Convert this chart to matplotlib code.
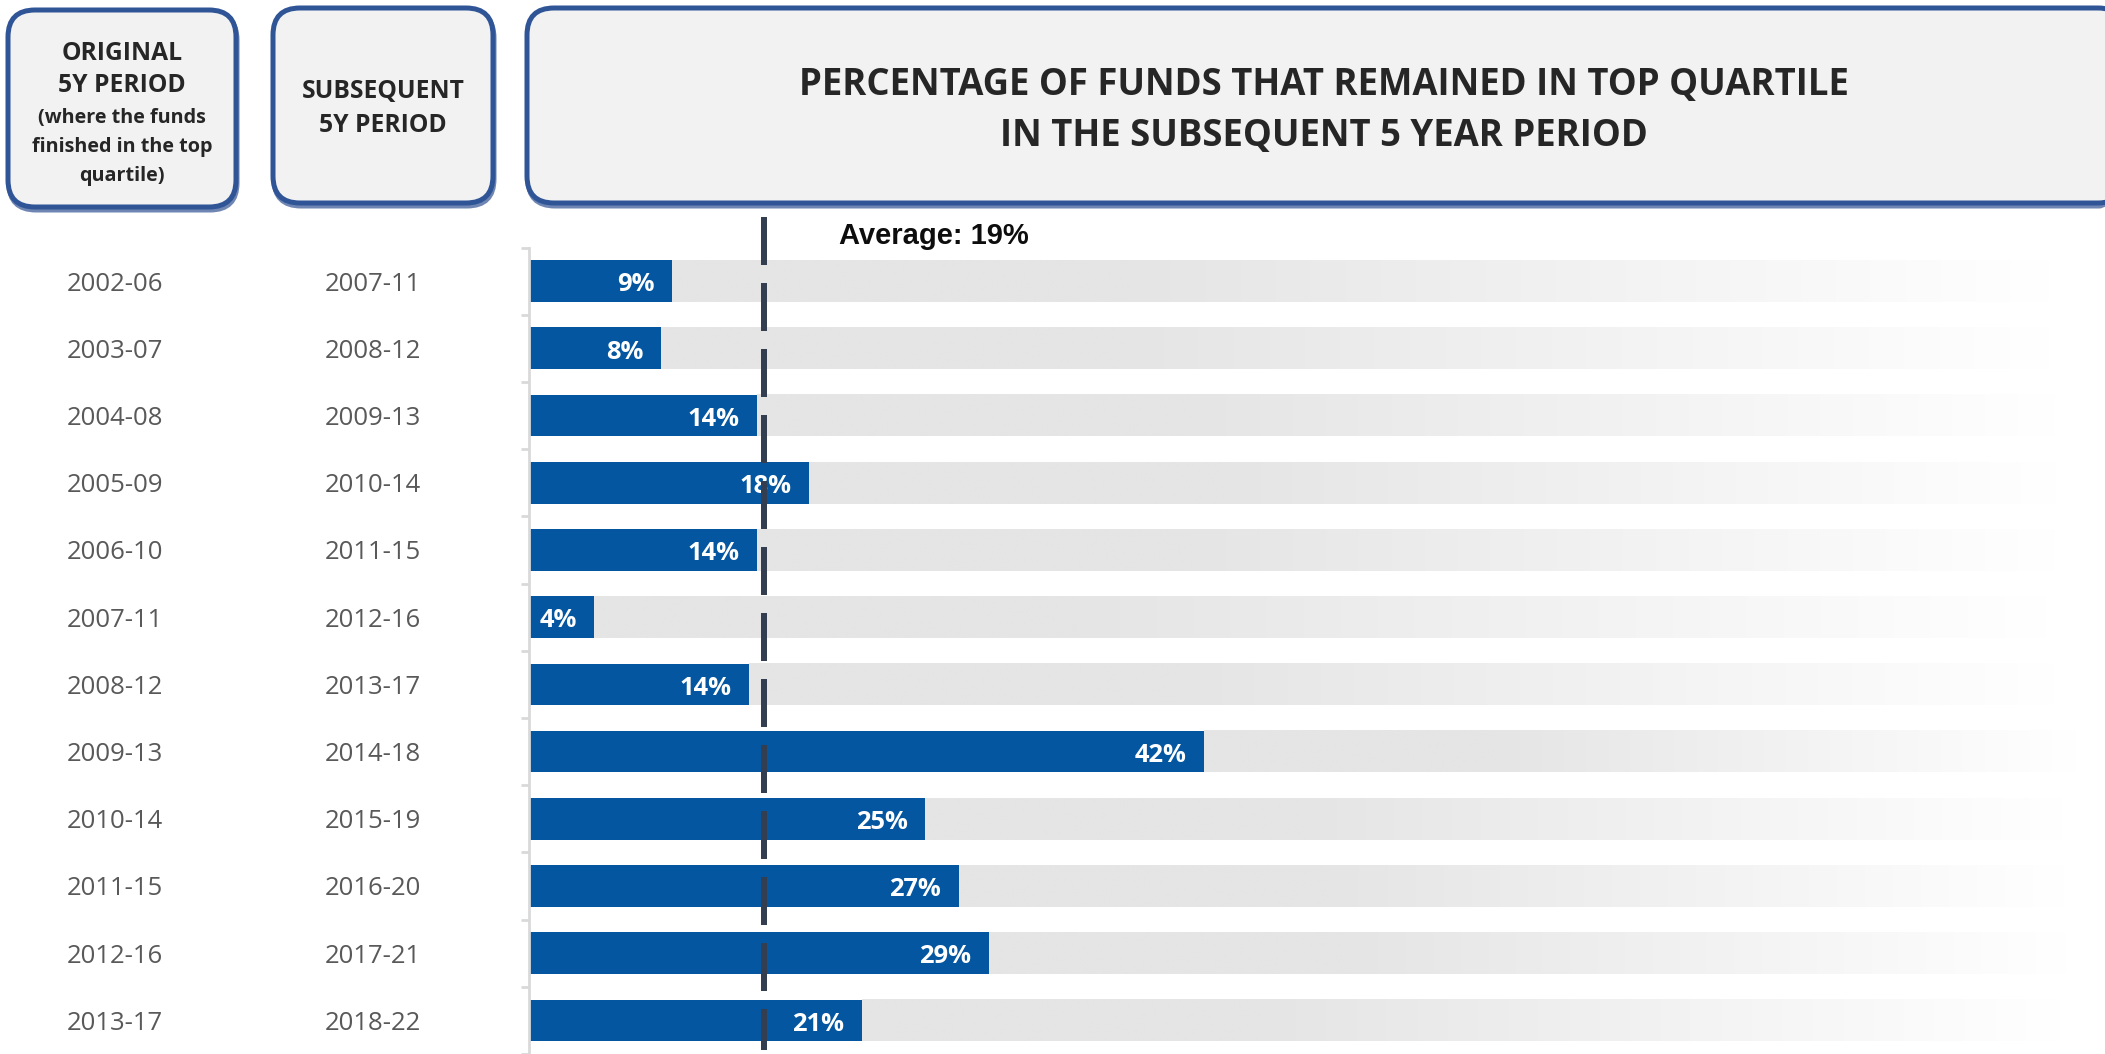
import numpy as np
import matplotlib
matplotlib.use("Agg")
import matplotlib.pyplot as plt
from matplotlib.patches import FancyBboxPatch
from matplotlib import transforms

plt.rcParams['lines.scale_dashes'] = False

# ---------------- data ----------------
original_periods = ['2002-06', '2003-07', '2004-08', '2005-09', '2006-10', '2007-11',
                    '2008-12', '2009-13', '2010-14', '2011-15', '2012-16', '2013-17']
subsequent_periods = ['2007-11', '2008-12', '2009-13', '2010-14', '2011-15', '2012-16',
                      '2013-17', '2014-18', '2015-19', '2016-20', '2017-21', '2018-22']
pct_remained = [9.0, 8.3, 14.3, 17.6, 14.3, 4.1, 13.8, 42.4, 24.9, 27.0, 28.9, 20.9]
average_label_value = 19
average_marker_x = 14.8   # where the dashed average marker sits on the chart's scale
scale_max = 100

header_original = ['ORIGINAL', '5Y PERIOD']
header_original_sub = ['(where the funds', 'finished in the top', 'quartile)']
header_subsequent = ['SUBSEQUENT', '5Y PERIOD']
title_lines = ['PERCENTAGE OF FUNDS THAT REMAINED IN TOP QUARTILE',
               'IN THE SUBSEQUENT 5 YEAR PERIOD']

# ---------------- style ----------------
W, H = 2105, 1054
BLUE = '#0556A0'
BOX_EDGE = '#2F5597'
BOX_FACE = '#F2F2F2'
HEAD_TXT = '#262626'
ROW_TXT = '#595959'
LINE_CLR = '#333F50'
FONT = 'Open Sans'

fig = plt.figure(figsize=(W / 100, H / 100), dpi=100)
fig.patch.set_facecolor('white')
renderer = fig.canvas.get_renderer()


def fitted_size(text, target_px, weight='bold', family=FONT, base=20):
    t = fig.text(0, 0, text, fontsize=base, fontweight=weight, family=family)
    w = t.get_window_extent(renderer=renderer).width
    t.remove()
    return base * target_px / w


# overlay axes in pixel coordinates
ov = fig.add_axes([0, 0, 1, 1])
ov.set_xlim(0, W)
ov.set_ylim(H, 0)
ov.axis('off')

# main chart axes
ax_left, ax_top = 529, 247.5
ax = fig.add_axes([ax_left / W, 0, (W - ax_left) / W, (H - ax_top) / H])
ax.patch.set_visible(False)

n = len(pct_remained)
ys = np.arange(n)
bar_h = 0.62
row_px = 67.55
y_bottom = -0.5 + (H - ax_top) / row_px

# gradient background bars (remaining share, fading to white)
for y, v in zip(ys, pct_remained):
    t = np.linspace(0, 1, 400)
    f = np.clip((t - 0.32) / 0.63, 0, 1)
    g = (229 + 26 * f) / 255.0
    img = np.dstack([g, g, g])
    ax.imshow(img, extent=[v, scale_max, y + bar_h / 2, y - bar_h / 2],
              aspect='auto', interpolation='bilinear', zorder=1)

ax.barh(ys, pct_remained, height=bar_h, color=BLUE, zorder=2, linewidth=0)

bar_fs = fitted_size('9%', 37.5)
for y, v in zip(ys, pct_remained):
    ax.annotate(f"{round(v)}%", xy=(v, y), xytext=(-12.5, -0.5), textcoords='offset points',
                ha='right', va='center_baseline', color='white', fontsize=bar_fs,
                fontweight='bold', family=FONT, zorder=3)

# average marker
ax.plot([average_marker_x, average_marker_x], [-0.95, y_bottom], color=LINE_CLR,
        lw=4.32, linestyle=(0, (34.56, 12.96)), solid_capstyle='butt',
        dash_capstyle='butt', clip_on=False, zorder=5)
ov.text(839, 236, f"Average: {average_label_value}%", ha='left', va='center',
        fontsize=21, fontweight='bold', family='Liberation Sans', color='#0D0D0D')

ax.set_xlim(0, (W - ax_left) / 15.91)
ax.set_ylim(y_bottom, -0.5)
ax.set_xticks([])
ax.set_yticks(np.arange(n + 1) - 0.5)
ax.set_yticklabels([])
ax.tick_params(axis='y', direction='out', length=6, width=2, color='#D9D9D9')
for s in ['top', 'right', 'bottom']:
    ax.spines[s].set_visible(False)
ax.spines['left'].set_color('#D9D9D9')
ax.spines['left'].set_linewidth(2)

# row labels
row_fs = fitted_size('2002-06', 97, weight='normal')
blend = transforms.blended_transform_factory(ov.transData, ax.transData)
for y, a, b in zip(ys, original_periods, subsequent_periods):
    ax.text(115, y, a, transform=blend, ha='center', va='center_baseline',
            fontsize=row_fs, color=ROW_TXT, family=FONT, clip_on=False)
    ax.text(373, y, b, transform=blend, ha='center', va='center_baseline',
            fontsize=row_fs, color=ROW_TXT, family=FONT, clip_on=False)

# header boxes
def box(x0, y0, x1, y1):
    sh = FancyBboxPatch((x0 + 1, y0 + 3), x1 - x0, y1 - y0,
                        boxstyle='round,pad=0,rounding_size=27',
                        facecolor='none', edgecolor='#6f86b3', lw=3.6, zorder=1)
    ov.add_patch(sh)
    p = FancyBboxPatch((x0, y0), x1 - x0, y1 - y0,
                       boxstyle='round,pad=0,rounding_size=27',
                       facecolor=BOX_FACE, edgecolor=BOX_EDGE, lw=3.6, zorder=2)
    ov.add_patch(p)

box(8, 10, 236, 207)
box(273, 8, 493, 203)
box(527, 8, 2125, 203)

head_fs = fitted_size('ORIGINAL', 121)
sub_fs = fitted_size('finished in the top', 181)
title_fs = fitted_size(title_lines[0], 1051)

for txt, y in zip(header_original, [53, 86]):
    ov.text(122, y, txt, ha='center', va='center', fontsize=head_fs, fontweight='bold',
            family=FONT, color=HEAD_TXT, zorder=3)
for txt, y in zip(header_original_sub, [118, 147, 176]):
    ov.text(122, y, txt, ha='center', va='center', fontsize=sub_fs, fontweight='bold',
            family=FONT, color=HEAD_TXT, zorder=3)
for txt, y in zip(header_subsequent, [92, 126]):
    ov.text(383, y, txt, ha='center', va='center', fontsize=head_fs, fontweight='bold',
            family=FONT, color=HEAD_TXT, zorder=3)
for txt, y in zip(title_lines, [85, 136]):
    ov.text(1324, y, txt, ha='center', va='center', fontsize=title_fs, fontweight='bold',
            family=FONT, color=HEAD_TXT, zorder=3)

fig.savefig('out.png', dpi=100, facecolor='white')
